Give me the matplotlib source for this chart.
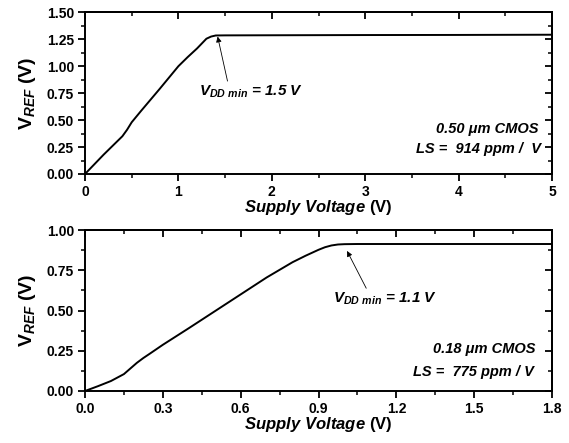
import matplotlib
matplotlib.use("Agg")
import matplotlib.pyplot as plt
from matplotlib.ticker import MultipleLocator

plt.rcParams['font.family'] = ['Liberation Sans', 'DejaVu Sans']
plt.rcParams['font.weight'] = 'bold'
plt.rcParams['mathtext.fontset'] = 'custom'
plt.rcParams['mathtext.rm'] = 'Liberation Sans:bold'
plt.rcParams['mathtext.bf'] = 'Liberation Sans:bold'
plt.rcParams['mathtext.it'] = 'Liberation Sans:italic:bold'

# Top panel data (0.50 um CMOS)
top_supply = [0, 0.1, 0.2, 0.3, 0.4, 0.45, 0.5, 0.6, 0.8, 1.0, 1.1, 1.2, 1.3, 1.35, 1.4, 1.5, 2, 3, 4, 5]
top_vref = [0, 0.09, 0.18, 0.265, 0.35, 0.41, 0.48, 0.585, 0.79, 1.0, 1.085, 1.165, 1.255, 1.275,
            1.285, 1.286, 1.287, 1.289, 1.29, 1.292]
top_xticks = [0, 1, 2, 3, 4, 5]
top_yticks = [0.00, 0.25, 0.50, 0.75, 1.00, 1.25, 1.50]

# Bottom panel data (0.18 um CMOS)
bot_supply = [0, 0.05, 0.1, 0.15, 0.175, 0.2, 0.225, 0.25, 0.3, 0.4, 0.5, 0.6, 0.7, 0.8, 0.85,
              0.9, 0.925, 0.95, 0.975, 1.0, 1.05, 1.2, 1.5, 1.8]
bot_vref = [0, 0.03, 0.062, 0.105, 0.14, 0.175, 0.205, 0.232, 0.287, 0.39, 0.495, 0.6, 0.705,
            0.8, 0.84, 0.877, 0.893, 0.904, 0.91, 0.912, 0.913, 0.913, 0.913, 0.913]
bot_xticks = [0.0, 0.3, 0.6, 0.9, 1.2, 1.5, 1.8]
bot_yticks = [0.00, 0.25, 0.50, 0.75, 1.00]

fig = plt.figure(figsize=(5.69, 4.43), dpi=100)
W, H = 569, 443

def make_ax(left, top, right, bottom):
    return fig.add_axes([left / W, 1 - bottom / H, (right - left) / W, (bottom - top) / H])

def style(ax, xticks, yticks, xminor, yminor, xfmt, yfmt):
    ax.set_xlim(xticks[0], xticks[-1])
    ax.set_ylim(yticks[0], yticks[-1])
    ax.set_xticks(xticks)
    ax.set_yticks(yticks)
    ax.set_xticklabels([xfmt.format(v) for v in xticks])
    ax.set_yticklabels([yfmt.format(v) for v in yticks])
    ax.xaxis.set_minor_locator(MultipleLocator(xminor))
    ax.yaxis.set_minor_locator(MultipleLocator(yminor))
    ax.tick_params(which='major', direction='out', length=5, width=1.3, labelsize=10, pad=3)
    ax.tick_params(which='minor', direction='out', length=3, width=1.1)
    for lab in ax.get_xticklabels() + ax.get_yticklabels():
        lab.set_fontweight('bold')
    for s in ax.spines.values():
        s.set_linewidth(1.4)
    sx = ax.secondary_xaxis('top')
    sx.set_xticks(xticks)
    sx.xaxis.set_minor_locator(MultipleLocator(xminor))
    sx.tick_params(which='major', direction='in', length=5, width=1.3, labeltop=False)
    sx.tick_params(which='minor', direction='in', length=3, width=1.1)
    sx.spines['top'].set_linewidth(1.4)
    sy = ax.secondary_yaxis('right')
    sy.set_yticks(yticks)
    sy.yaxis.set_minor_locator(MultipleLocator(yminor))
    sy.tick_params(which='major', direction='in', length=5, width=1.3, labelright=False)
    sy.tick_params(which='minor', direction='in', length=3, width=1.1)
    sy.spines['right'].set_linewidth(1.4)
    ax.set_xlabel(r"$\mathit{Supply\ Voltage}$ (V)", fontsize=12, fontweight='bold', labelpad=-1)
    ax.set_ylabel(r"$\mathbf{V}_{\mathit{REF}}$ (V)", fontsize=14, fontweight='bold', labelpad=6)

ax1 = make_ax(85, 12.3, 552, 174)
ax1.plot(top_supply, top_vref, color='black', lw=1.4)
style(ax1, top_xticks, top_yticks, 0.5, 0.125, "{:.0f}", "{:.2f}")
ax1.annotate(r"$V_{DD\ min}$ = 1.5 V", xy=(1.42, 1.275), xytext=(1.22, 0.76),
             fontsize=11, fontweight='bold', fontstyle='italic', va='center', ha='left',
             arrowprops=dict(arrowstyle='-|>', lw=0.6, color='black', mutation_scale=8,
                             shrinkA=0, shrinkB=0, relpos=(0.28, 1.0)))
ax1.text(4.86, 0.42, "0.50 μm CMOS", fontsize=10.5, fontweight='bold', fontstyle='italic',
         ha='right', va='center')
ax1.text(4.88, 0.233, "LS =  914 ppm /  V", fontsize=10.5, fontweight='bold', fontstyle='italic',
         ha='right', va='center')

ax2 = make_ax(85, 230, 552, 391)
ax2.plot(bot_supply, bot_vref, color='black', lw=1.4)
style(ax2, bot_xticks, bot_yticks, 0.15, 0.125, "{:.1f}", "{:.2f}")
ax2.annotate(r"$V_{DD\ min}$ = 1.1 V", xy=(1.01, 0.87), xytext=(0.957, 0.57),
             fontsize=11, fontweight='bold', fontstyle='italic', va='center', ha='left',
             arrowprops=dict(arrowstyle='-|>', lw=0.6, color='black', mutation_scale=8,
                             shrinkA=0, shrinkB=0, relpos=(0.33, 1.0)))
ax2.text(1.735, 0.263, "0.18 μm CMOS", fontsize=10.5, fontweight='bold', fontstyle='italic',
         ha='right', va='center')
ax2.text(1.73, 0.12, "LS =  775 ppm / V", fontsize=10.5, fontweight='bold', fontstyle='italic',
         ha='right', va='center')

fig.savefig("out.png", dpi=100)
